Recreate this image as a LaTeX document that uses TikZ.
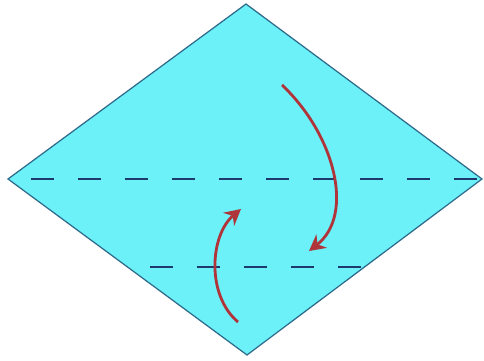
\documentclass[tikz,border=0pt]{standalone}
\usetikzlibrary{arrows.meta}
\definecolor{foldCyan}{HTML}{6CF1F9}
\definecolor{foldEdge}{HTML}{2E6A8A}
\definecolor{foldDash}{HTML}{1C3A6C}
\definecolor{foldRed}{HTML}{B0353A}
\begin{document}
\begin{tikzpicture}[
  x=0.02cm, y=-0.02cm,
  paper/.style={fill=foldCyan, draw=foldEdge, line width=0.7pt, line join=miter},
  foldline/.style={draw=foldDash, line width=1.1pt,
    dash pattern=on 0.46cm off 0.48cm, dash phase=0.48cm},
  turn/.style={draw=foldRed, line width=1.6pt,
    -{Stealth[length=3.2mm, width=3.4mm]}}
]
 \useasboundingbox (0,0) rectangle (484,361);

 % Corners of the square, set on its point
 \coordinate (top) at (246,4);
 \coordinate (left) at (8,179);
 \coordinate (right) at (482,179);
 \coordinate (bottom) at (247,355);

 % Sheet
 \draw[paper] (top) -- (right) -- (bottom) -- (left) -- cycle;

 % Fold lines
 \coordinate (lowL) at (127,267);
 \coordinate (lowR) at (364,267);
 \draw[foldline] (left) -- (right);
 \draw[foldline] (lowL) -- (lowR);

 % Fold arrows
 \coordinate (downA) at (282,85);
 \coordinate (downB) at (309,251);
 \coordinate (upA) at (238,322);
 \coordinate (upB) at (241,209);
 \draw[turn] (downA) .. controls (335,135) and (355,215) .. (downB);
 \draw[turn] (upA) .. controls (206,295) and (210,235) .. (upB);
\end{tikzpicture}
\end{document}
